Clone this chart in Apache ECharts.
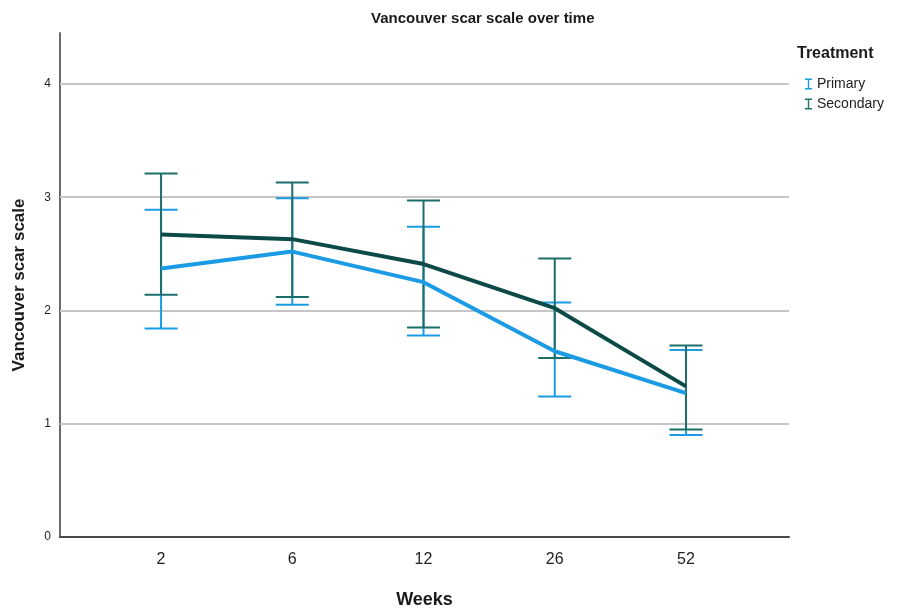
<!DOCTYPE html>
<html><head><meta charset="utf-8">
<script src="https://cdn.jsdelivr.net/npm/echarts@6/dist/echarts.min.js"></script>
<style>html,body{margin:0;padding:0;background:#fff}#c{width:897px;height:609px}</style>
</head><body><div id="c"></div>
<script>
const weeks = ['2', '6', '12', '26', '52'];
const yTicks = [0, 1, 2, 3, 4];
const primaryMean = [2.37, 2.52, 2.25, 1.64, 1.27];
const primaryLow = [1.84, 2.05, 1.78, 1.24, 0.90];
const primaryHigh = [2.89, 2.99, 2.74, 2.07, 1.65];
const secondaryMean = [2.67, 2.63, 2.41, 2.02, 1.33];
const secondaryLow = [2.14, 2.12, 1.85, 1.58, 0.95];
const secondaryHigh = [3.21, 3.13, 2.97, 2.46, 1.69];

const FONT = '"Liberation Sans", Arial, sans-serif';
const C_PRI = '#1a9be3';
const C_SEC_LINE = '#0b4a46';
const C_SEC_BAR = '#1b6e6a';

function errData(lo, hi) { return lo.map((v, i) => [i, v, hi[i]]); }
function errSeries(name, lo, hi, color, extra) {
  return Object.assign({
    type: 'custom', name: name + ' CI', silent: true, z: 3,
    data: errData(lo, hi),
    renderItem: function (params, api) {
      const x = api.value(0);
      const p1 = api.coord([x, api.value(1)]);
      const p2 = api.coord([x, api.value(2)]);
      const w = 16.5;
      const st = { stroke: color, lineWidth: 2 };
      return { type: 'group', children: [
        { type: 'line', shape: { x1: p1[0], y1: p1[1], x2: p2[0], y2: p2[1] }, style: st },
        { type: 'line', shape: { x1: p1[0] - w, y1: p1[1], x2: p1[0] + w, y2: p1[1] }, style: st },
        { type: 'line', shape: { x1: p2[0] - w, y1: p2[1], x2: p2[0] + w, y2: p2[1] }, style: st }
      ]};
    }
  }, extra || {});
}
const ICON = 'path://M0,0h7v1.4h-2.8v8.2h2.8v1.4h-7v-1.4h2.8v-8.2h-2.8z';

const chart = echarts.init(document.getElementById('c'));
chart.setOption({
  animation: false,
  textStyle: { fontFamily: FONT },
  title: [
    { text: 'Vancouver scar scale over time', left: 366, top: 6,
      textStyle: { fontSize: 15, fontWeight: 'bold', color: '#1a1a1a', fontFamily: FONT } },
    { text: 'Treatment', left: 792, top: 41,
      textStyle: { fontSize: 16, fontWeight: 'bold', color: '#1a1a1a', fontFamily: FONT } }
  ],
  legend: {
    orient: 'vertical', left: 800, top: 72, itemWidth: 7, itemHeight: 11, itemGap: 6,
    textStyle: { fontSize: 14, color: '#222', fontFamily: FONT },
    data: [
      { name: 'Primary', icon: ICON, itemStyle: { color: C_PRI } },
      { name: 'Secondary', icon: ICON, itemStyle: { color: C_SEC_BAR } }
    ]
  },
  grid: { left: 60, right: 108, top: 33, bottom: 72, outerBoundsMode: 'none', containLabel: false },
  xAxis: {
    type: 'value', min: -0.770, max: 4.785,
    name: 'Weeks', nameLocation: 'middle', nameGap: 54,
    nameTextStyle: { fontSize: 18, fontWeight: 'bold', color: '#1a1a1a', fontFamily: FONT },
    axisLine: { show: true, onZero: false, lineStyle: { color: '#4a4a4a', width: 2 } },
    axisTick: { show: false },
    splitLine: { show: false },
    axisLabel: { customValues: [0, 1, 2, 3, 4], formatter: v => weeks[Math.round(v)],
      fontSize: 16, color: '#222', margin: 15, fontFamily: FONT }
  },
  yAxis: {
    type: 'value', min: 0, max: 4.45, interval: 1,
    name: 'Vancouver scar scale', nameLocation: 'middle', nameGap: 32,
    nameTextStyle: { fontSize: 17, fontWeight: 'bold', color: '#1a1a1a', fontFamily: FONT },
    axisLine: { show: true, onZero: false, lineStyle: { color: '#6a6a6a', width: 2 } },
    axisTick: { show: false },
    splitLine: { show: false },
    axisLabel: { customValues: yTicks, fontSize: 12, color: '#222', margin: 9, fontFamily: FONT }
  },
  series: [
    errSeries('Primary', primaryLow, primaryHigh, C_PRI, {
      markLine: { silent: true, symbol: 'none', label: { show: false }, z: 1,
        lineStyle: { color: '#c6c6c6', width: 2, type: 'solid' },
        data: yTicks.filter(v => v > 0).map(v => ({ yAxis: v })) }
    }),
    errSeries('Secondary', secondaryLow, secondaryHigh, C_SEC_BAR),
    { type: 'line', name: 'Primary', data: primaryMean.map((v, i) => [i, v]), z: 4,
      symbol: 'none', lineStyle: { color: C_PRI, width: 4 }, itemStyle: { color: C_PRI } },
    { type: 'line', name: 'Secondary', data: secondaryMean.map((v, i) => [i, v]), z: 4,
      symbol: 'none', lineStyle: { color: C_SEC_LINE, width: 4 }, itemStyle: { color: C_SEC_BAR } }
  ]
});
</script></body></html>
